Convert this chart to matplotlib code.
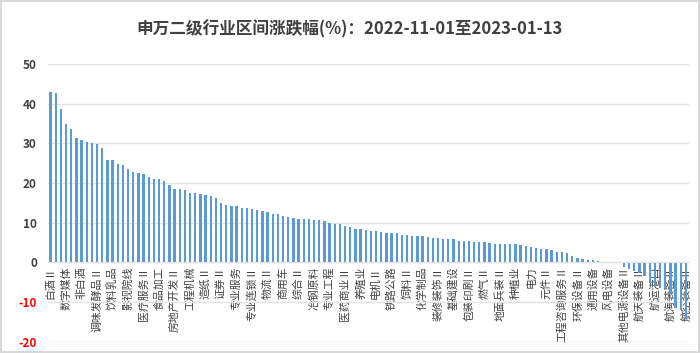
""" Shenwan level-2 industry returns, 2022-11-01 to 2023-01-13, sorted bar chart. """

import numpy as np
import matplotlib
matplotlib.use('Agg')
import matplotlib.pyplot as plt


plt.rcParams['font.family'] = ['Noto Sans CJK SC', 'DejaVu Sans']

### DATA ###

# Returns (%) of all 124 industries, sorted descending
returns = [
    43.0, 42.7, 38.7, 34.9, 33.6, 31.4, 30.9, 30.3, 30.0, 29.8,
    28.8, 25.8, 25.8, 24.9, 24.6, 23.6, 22.8, 22.5, 22.3, 21.5,
    21.0, 20.9, 20.5, 19.4, 18.4, 18.4, 18.3, 17.4, 17.4, 17.2,
    17.0, 16.8, 16.2, 14.9, 14.5, 14.3, 14.1, 13.7, 13.7, 13.4,
    13.2, 13.0, 12.7, 12.2, 12.2, 11.7, 11.4, 11.2, 11.0, 10.9,
    10.8, 10.7, 10.6, 10.3, 9.8, 9.7, 9.7, 9.2, 8.8, 8.5,
    8.4, 8.1, 8.0, 8.0, 7.6, 7.5, 7.5, 7.4, 7.0, 7.0,
    6.7, 6.7, 6.6, 6.4, 6.2, 6.2, 6.0, 6.0, 6.0, 5.5,
    5.45, 5.35, 5.2, 5.2, 5.2, 4.8, 4.7, 4.5, 4.5, 4.5,
    4.5, 4.4, 4.1, 3.8, 3.6, 3.4, 3.4, 3.2, 2.7, 2.6,
    2.3, 1.6, 1.2, 0.8, 0.7, 0.5, 0.25, 0.17, 0.1, 0.03,
    -0.1, -1.3, -1.6, -2.3, -2.7, -3.5, -5.2, -6.0, -6.5, -6.9,
    -8.1, -11.5, -11.9, -14.4,
]

# Only every third industry is labelled on the axis
label_names = [
    "白酒Ⅱ", "数字媒体", "非白酒", "调味发酵品Ⅱ", "饮料乳品", "影视院线", "医疗服务Ⅱ",
    "食品加工", "房地产开发Ⅱ", "工程机械", "造纸Ⅱ", "证券Ⅱ", "专业服务", "专业连锁Ⅱ",
    "物流Ⅱ", "商用车", "综合Ⅱ", "冶钢原料", "专业工程", "医药商业Ⅱ", "养殖业",
    "电机Ⅱ", "铁路公路", "饲料Ⅱ", "化学制品", "装修装饰Ⅱ", "基础建设", "包装印刷Ⅱ",
    "燃气Ⅱ", "地面兵装Ⅱ", "种植业", "电力", "元件Ⅱ", "工程咨询服务Ⅱ", "环保设备Ⅱ",
    "通用设备", "风电设备", "其他电源设备Ⅱ", "航天装备Ⅱ", "航运港口", "航海装备Ⅱ", "航空装备Ⅱ",
]
label_step = 3

y_ticks = [-20, -10, 0, 10, 20, 30, 40, 50]

title = "申万二级行业区间涨跌幅(%)：2022-11-01至2023-01-13"

### ###


fg_color = '#404040'
bar_color = '#5b9bd5'

fig = plt.figure(figsize=(7.0, 3.53), dpi=100)
fig.patch.set_edgecolor('#d9d9d9')
fig.patch.set_linewidth(1.5)

ax = fig.add_axes([0.0686, 0.032, 0.915, 0.787])

x = np.arange(len(returns))
ax.bar(x, returns, width=0.45, color=bar_color, zorder=2)

ax.set_xlim(-0.5, len(returns) - 0.5)
ax.set_ylim(-20, 50)

# Grid
ax.set_yticks(y_ticks)
ax.yaxis.grid(True, color='#e3e3e3', linewidth=1.0, zorder=0)
ax.set_axisbelow(True)

for spine in ['top', 'right', 'left']:
    ax.spines[spine].set_visible(False)

# Put the category axis at zero
ax.spines['bottom'].set_position(('data', 0))
ax.spines['bottom'].set_color('#e3e3e3')

ax.set_xticks(x[::label_step])
ax.set_xticklabels(label_names, rotation=90, fontsize=7.8, color=fg_color, fontweight='medium')
ax.tick_params(axis='x', length=0, pad=3)

ax.set_yticklabels([str(v) for v in y_ticks], fontsize=8.5, fontweight='bold')
ax.tick_params(axis='y', length=0, pad=8)
for lbl, v in zip(ax.get_yticklabels(), y_ticks):
    lbl.set_color('red' if v < 0 else fg_color)

fig.text(0.5, 0.918, title, ha='center', va='center', fontsize=12, fontweight='bold',
    color=fg_color)

plt.savefig('out.png', dpi=100, facecolor='white', edgecolor=fig.patch.get_edgecolor())
plt.close()
